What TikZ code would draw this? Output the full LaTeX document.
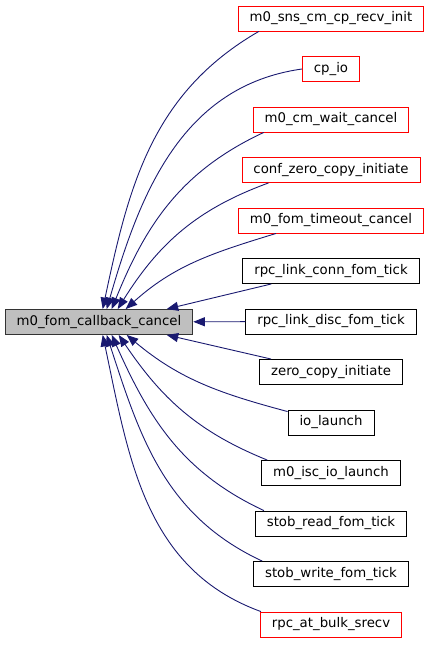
\documentclass[tikz,border=0pt]{standalone}
\usepackage{fontspec}
\setmainfont{DejaVu Sans}
\usepackage{tikz}
\usetikzlibrary{arrows.meta, positioning, calc}
\usepackage{xcolor}
\definecolor{edgeblue}{HTML}{191970}
\definecolor{boxgray}{HTML}{BFBFBF}

\begin{document}
\begin{tikzpicture}[
      x=1pt, y=1pt, node distance=24.6pt, >={Triangle[length=11.5pt, width=9pt]},
      fn/.style={rectangle, draw=black, line width=0.9pt, minimum height=25pt, inner xsep=11.5pt, inner ysep=0pt, font=\fontsize{13.3}{16}\selectfont},
      ext/.style={fn, draw=red},
      root/.style={fn, fill=boxgray, draw=black!80},
      link/.style={draw=edgeblue, line width=0.9pt, ->}
    ]
    \useasboundingbox (0,0) rectangle (429,-645);
    % Nodes
    \node[root] (cb) at (99,-322) {m0\_fom\_callback\_cancel};
    \node[ext] (sns) at (331,-18.5) {m0\_sns\_cm\_cp\_recv\_init};
    \node[ext, below=of sns] (cpio) {cp\_io};
    \node[ext, below=of cpio] (cmwait) {m0\_cm\_wait\_cancel};
    \node[ext, below=of cmwait] (confzero) {conf\_zero\_copy\_initiate};
    \node[ext, below=of confzero] (fomtimeout) {m0\_fom\_timeout\_cancel};
    \node[fn, below=of fomtimeout] (linkconn) {rpc\_link\_conn\_fom\_tick};
    \node[fn, below=of linkconn] (linkdisc) {rpc\_link\_disc\_fom\_tick};
    \node[fn, below=of linkdisc] (zerocopy) {zero\_copy\_initiate};
    \node[fn, below=of zerocopy] (iolaunch) {io\_launch};
    \node[fn, below=of iolaunch] (isclaunch) {m0\_isc\_io\_launch};
    \node[fn, below=of isclaunch] (stobread) {stob\_read\_fom\_tick};
    \node[fn, below=of stobread] (stobwrite) {stob\_write\_fom\_tick};
    \node[ext, below=of stobwrite] (bulksrecv) {rpc\_at\_bulk\_srecv};

    % Callers above
    \draw[link] ($(sns.south west)+(21,0)$) to[out=210, in=78] ($(cb.north west)+(98,0)$);
    \draw[link] (cpio.west) to[out=188, in=74] ($(cb.north west)+(102,0)$);
    \draw[link] ($(cmwait.south west)+(11,0)$) to[out=205, in=68] ($(cb.north west)+(107,0)$);
    \draw[link] ($(confzero.south west)+(27,0)$) to[out=200, in=58] ($(cb.north west)+(113,0)$);
    \draw[link] ($(fomtimeout.south west)+(38,0)$) to[out=197, in=42] ($(cb.north west)+(121,0)$);
    \draw[link] ($(linkconn.south west)+(29,0)$) -- ($(cb.north west)+(162,0)$);
    % Straight caller
    \draw[link] (linkdisc) -- (cb);
    % Callers below
    \draw[link] ($(zerocopy.north west)+(12,0)$) -- ($(cb.south west)+(162,0)$);
    \draw[link] ($(iolaunch.north west)+(0,-2)$) to[out=165, in=-40] ($(cb.south west)+(122,0)$);
    \draw[link] ($(isclaunch.north west)+(6,0)$) to[out=158, in=-56] ($(cb.south west)+(114,0)$);
    \draw[link] ($(stobread.north west)+(9,0)$) to[out=155, in=-66] ($(cb.south west)+(107,0)$);
    \draw[link] ($(stobwrite.north west)+(9,0)$) to[out=155, in=-72] ($(cb.south west)+(102,0)$);
    \draw[link] ($(bulksrecv.north west)+(1,0)$) to[out=160, in=-78] ($(cb.south west)+(98,0)$);
  \end{tikzpicture}
\end{document}
